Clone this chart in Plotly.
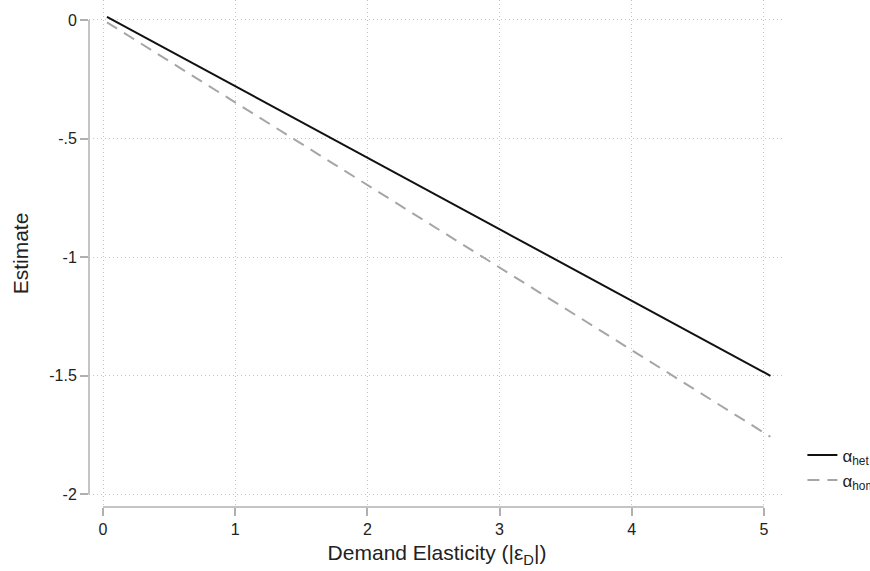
import plotly.graph_objects as go

# Data
elasticity = [0.03, 5.05]
alpha_het = [0.013, -1.50]
alpha_hom = [-0.010, -1.757]

x_ticks = [0, 1, 2, 3, 4, 5]
x_tick_labels = ["0", "1", "2", "3", "4", "5"]
y_ticks = [0, -0.5, -1, -1.5, -2]
y_tick_labels = ["0", "-.5", "-1", "-1.5", "-2"]

FONT = "Liberation Sans, Arial, sans-serif"
AXIS_GRAY = "#b0b0b0"
GRID = "#c4c4c4"

fig = go.Figure()
fig.add_trace(go.Scatter(x=elasticity, y=alpha_het, mode="lines",
                         line=dict(color="#111111", width=2),
                         name="α<sub>het</sub>"))
fig.add_trace(go.Scatter(x=elasticity, y=alpha_hom, mode="lines",
                         line=dict(color="#a6a6a6", width=2, dash="12px,8px"),
                         name="α<sub>hom</sub>"))

# offset axis lines (Stata style)
fig.add_shape(type="line", xref="x", yref="paper", x0=0, x1=5, y0=0, y1=0,
              line=dict(color=AXIS_GRAY, width=1.5))
fig.add_shape(type="line", xref="paper", yref="y", x0=0, x1=0, y0=-2, y1=0,
              line=dict(color=AXIS_GRAY, width=1.5))

fig.update_layout(
    width=870, height=571,
    margin=dict(l=89, r=85, t=0, b=64, autoexpand=False),
    plot_bgcolor="white", paper_bgcolor="white",
    font=dict(family=FONT, size=16, color="#222222"),
    legend=dict(x=1.025, y=0.077, xanchor="left", yanchor="middle",
                font=dict(size=17), bgcolor="rgba(0,0,0,0)",
                itemwidth=30),
    showlegend=True,
)
fig.update_xaxes(
    range=[-0.106, 5.16],
    tickvals=x_ticks, ticktext=x_tick_labels,
    ticks="outside", ticklen=8, tickcolor=AXIS_GRAY, tickwidth=1.5,
    showline=False, zeroline=False,
    showgrid=True, gridcolor=GRID, griddash="1px,3px", gridwidth=1,
    title=dict(text="Demand Elasticity (|ε<sub>D</sub>|)", font=dict(size=21), standoff=8),
    tickfont=dict(size=16),
)
fig.update_yaxes(
    range=[-2.053, 0.084],
    tickvals=y_ticks, ticktext=y_tick_labels,
    ticks="outside", ticklen=8, tickcolor=AXIS_GRAY, tickwidth=1.5,
    showline=False, zeroline=False,
    showgrid=True, gridcolor=GRID, griddash="1px,3px", gridwidth=1,
    title=dict(text="Estimate", font=dict(size=21), standoff=14),
    tickfont=dict(size=16),
)

fig.write_html("out.html")
